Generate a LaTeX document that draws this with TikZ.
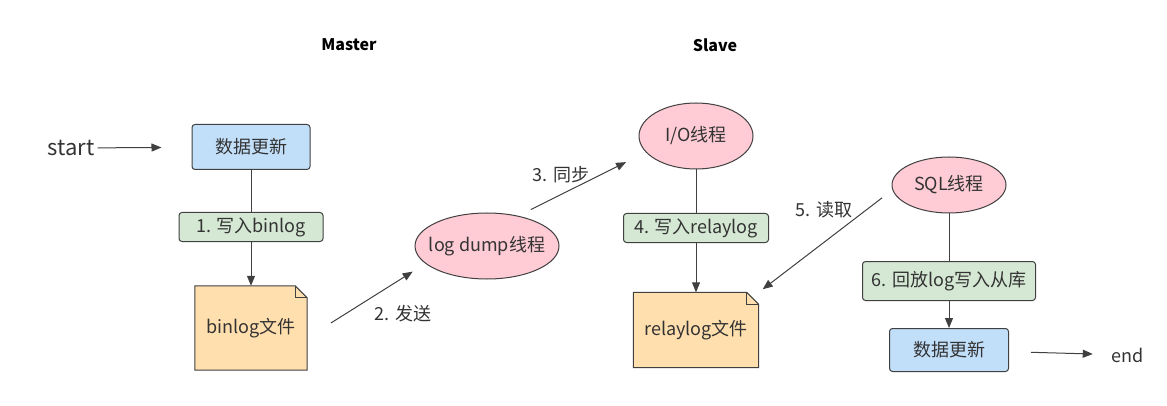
\documentclass[tikz,border=0pt]{standalone}
\usepackage{fontspec}
\setmainfont{Noto Sans CJK SC}
\usetikzlibrary{arrows.meta, shapes.geometric, backgrounds}
\definecolor{ink}{HTML}{333333}
\definecolor{edge}{HTML}{404040}
\definecolor{dbblue}{HTML}{C2DFFA}
\definecolor{stepgreen}{HTML}{D5E8D4}
\definecolor{filetan}{HTML}{FFDFAE}
\definecolor{threadpink}{HTML}{FFCCD6}
\tikzset{
  dbbox/.style={draw=edge, fill=dbblue, rounded corners=3pt, line width=1pt,
                text=ink, inner sep=0pt},
  stepbox/.style={draw=edge, fill=stepgreen, rounded corners=3pt, line width=1pt,
                  text=ink, inner sep=0pt},
  thread/.style={ellipse, draw=edge, fill=threadpink, line width=1pt,
                 text=ink, inner sep=0pt},
  filebox/.style={text=ink, inner sep=0pt},
  arr/.style={-{Triangle[length=10pt,width=8pt]}, line width=1pt, edge},
  ln/.style={line width=1pt, edge},
}

\begin{document}
\begin{tikzpicture}[
    x=1pt, y=-1pt,
    every node/.style={font=\fontsize{18}{22}\selectfont},
    title/.style={font=\bfseries\fontsize{16}{19}\selectfont, text=black},
    tag/.style={text=ink, inner sep=2pt}
  ]
  \useasboundingbox (0,0) rectangle (1167,406);

  % titles
  \node[title] (master) at (349,45) {Master};
  \node[title] (slave) at (715,45) {Slave};

  % master side
  \node[text=ink, inner sep=3pt, font=\fontsize{22}{26}\selectfont] (start) at (71,148) {start};
  \node[dbbox, minimum width=118, minimum height=45] (upd1) at (251,147) {数据更新};
  \node[stepbox, minimum width=144, minimum height=29] (s1) at (251,227) {1. 写入binlog};
  \node[filebox, minimum width=112, minimum height=84] (binlog) at (251,328) {binlog文件};

  \node[thread, minimum width=144, minimum height=66] (logdump) at (487,246) {\makebox[0pt]{log dump线程}};

  % slave side
  \node[thread, minimum width=114, minimum height=66] (io) at (696,136) {\makebox[0pt]{I/O线程}};
  \node[stepbox, minimum width=145, minimum height=29] (s4) at (696,228) {4. 写入relaylog};
  \node[filebox, minimum width=125, minimum height=75] (relay) at (696,330) {relaylog文件};

  \node[thread, minimum width=114, minimum height=56] (sql) at (949,185) {\makebox[0pt]{SQL线程}};
  \node[stepbox, minimum width=173, minimum height=39] (s6) at (949,281) {6. 回放log写入从库};
  \node[dbbox, minimum width=119, minimum height=43] (upd2) at (949,350) {数据更新};
  \node[text=ink, inner sep=3pt] (endtxt) at (1128,355) {end};

  % arrow labels
  \node[tag] (l2) at (403,314) {2. 发送};
  \node[tag] (l3) at (561,175) {3. 同步};
  \node[tag] (l5) at (824,210) {5. 读取};

  % file shapes with folded corner
  \begin{scope}[on background layer]
    \foreach \f in {binlog, relay} {
      \filldraw[ln, fill=filetan] (\f.north west) -- ([xshift=-12pt]\f.north east)
        -- ([yshift=-12pt]\f.north east) -- (\f.south east) -- (\f.south west) -- cycle;
      \draw[ln] ([xshift=-12pt]\f.north east) -- ([xshift=-12pt,yshift=-12pt]\f.north east)
        -- ([yshift=-12pt]\f.north east);
    }
  \end{scope}

  % connectors
  \draw[arr, shorten >=30pt] (start) -- (upd1);
  \draw[ln] (upd1) -- (s1);
  \draw[arr] (s1) -- (binlog);
  \draw[arr, shorten <=28pt, shorten >=15pt] (binlog.-10) -- (logdump.196);
  \draw[arr, shorten <=14pt, shorten >=22pt] (logdump.44) -- (io.198);
  \draw[ln] (io) -- (s4);
  \draw[arr] (s4) -- (relay);
  \draw[arr, shorten <=13pt, shorten >=5pt] (sql.185) -- (relay.north east);
  \draw[ln] (sql) -- (s6);
  \draw[arr] (s6) -- (upd2);
  \draw[arr, shorten <=22pt, shorten >=16pt] (upd2) -- (endtxt);

\end{tikzpicture}
\end{document}
